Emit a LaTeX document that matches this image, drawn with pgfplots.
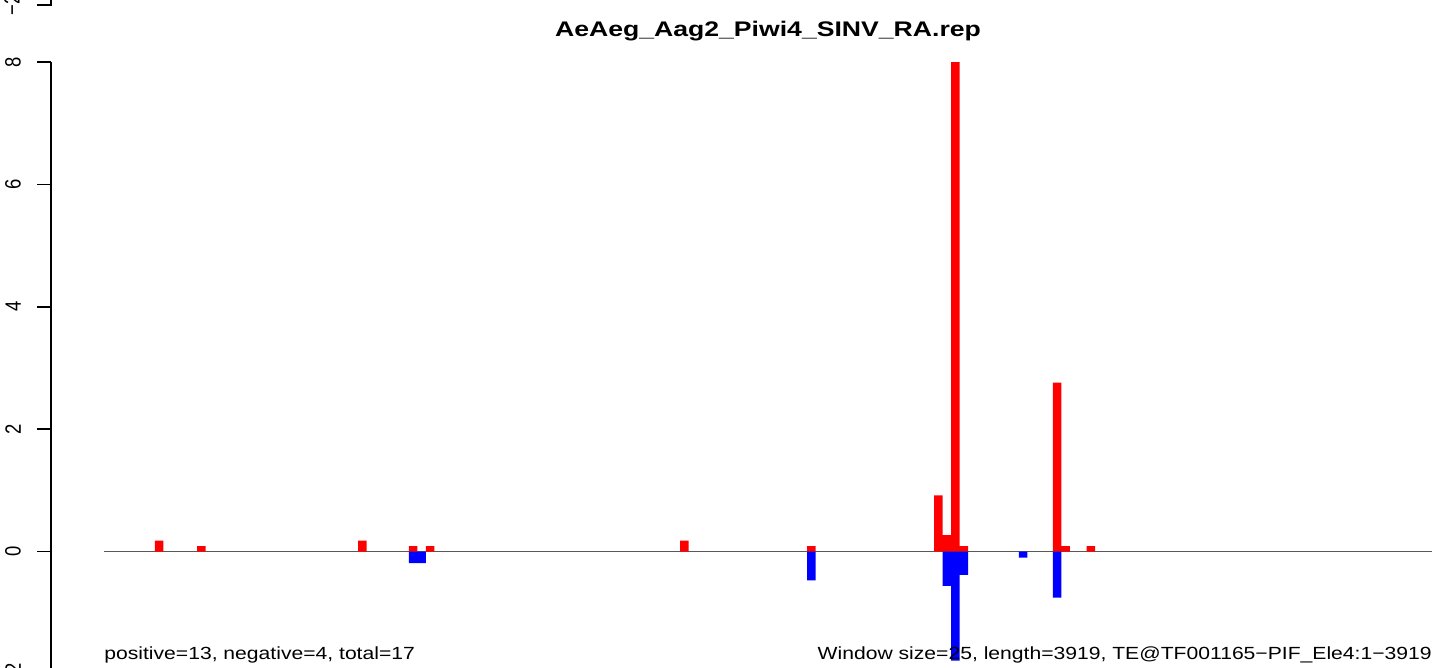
\documentclass[border=0pt]{standalone}
\usepackage{fontspec}
\setmainfont[FakeStretch=1.2]{Liberation Sans}
\newfontfamily\titlefont[FakeStretch=1.26]{Liberation Sans}
\newfontfamily\tickfont{Liberation Sans}
\usepackage{graphicx}
\usepackage{pgfplots}
\pgfplotsset{compat=1.18}

% 1 px of the reference = 0.5682pt
\begin{document}
\begin{tikzpicture}[x=0.5682pt, y=0.5682pt]
\path[use as bounding box] (0,0) rectangle (1455,668);

\begin{axis}[
    at={(28.978pt,-3.409pt)}, anchor=south west,
    scale only axis,
    width=784.7pt, height=347.7pt,
    xmin=-156.4, xmax=3919,
    ymin=-2, ymax=8,
    axis x line=none,
    axis y line*=left,
    y axis line style={line width=1.0pt},
    ytick={-2,0,2,4,6,8},
    yticklabels={\scalebox{1}[1.2]{−2},\scalebox{1}[1.2]{0},\scalebox{1}[1.2]{2},
                 \scalebox{1}[1.2]{4},\scalebox{1}[1.2]{6},\scalebox{1}[1.2]{8}},
    tick align=outside,
    major tick length=7.95pt,
    major tick style={line width=1.0pt, black},
    yticklabel shift=9pt,
    yticklabel style={rotate=90, anchor=south, inner sep=0pt,
                      font=\tickfont\fontsize{10.5}{12}\selectfont},
    clip=false,
]
% zero line
\addplot[color=black!65, line width=0.7pt, mark=none] coordinates {(0,0) (3919,0)};

% positive strand windows (window size 25, bar at window centre)
\addplot[ybar, bar width=25, bar shift=0pt, fill=red, draw=none] coordinates {
    (162.5,0.18) (287.5,0.09) (762.5,0.18) (912.5,0.09) (962.5,0.09)
    (1712.5,0.18) (2087.5,0.09) (2462.5,0.92) (2487.5,0.27) (2512.5,8)
    (2537.5,0.09) (2812.5,2.76) (2837.5,0.09) (2912.5,0.09)
};
% negative strand windows
\addplot[ybar, bar width=25, bar shift=0pt, fill=blue, draw=none] coordinates {
    (912.5,-0.19) (937.5,-0.19) (2087.5,-0.47) (2487.5,-0.56)
    (2512.5,-1.78) (2537.5,-0.38) (2712.5,-0.1) (2812.5,-0.75)
};
\end{axis}

% bottom tick of the panel above
\draw[line width=1.0pt] (51,670) -- (51,663) -- (37,663);
\node[rotate=90, anchor=south, inner sep=0pt, font=\tickfont\fontsize{10.5}{12}\selectfont]
    at (20,663) {\scalebox{1}[1.2]{−2}};

\node[anchor=base, inner sep=0pt] at (768,631)
    {\titlefont\fontsize{12}{14}\selectfont\bfseries AeAeg\_Aag2\_Piwi4\_SINV\_RA.rep};
\node[anchor=base west, inner sep=0pt] at (104,8.7)
    {\fontsize{10}{12}\selectfont positive=13, negative=4, total=17};
\node[anchor=base east, inner sep=0pt] at (1432,8.7)
    {\fontsize{10}{12}\selectfont Window size=25, length=3919, TE@TF001165−PIF\_Ele4:1−3919};
\end{tikzpicture}
\end{document}
